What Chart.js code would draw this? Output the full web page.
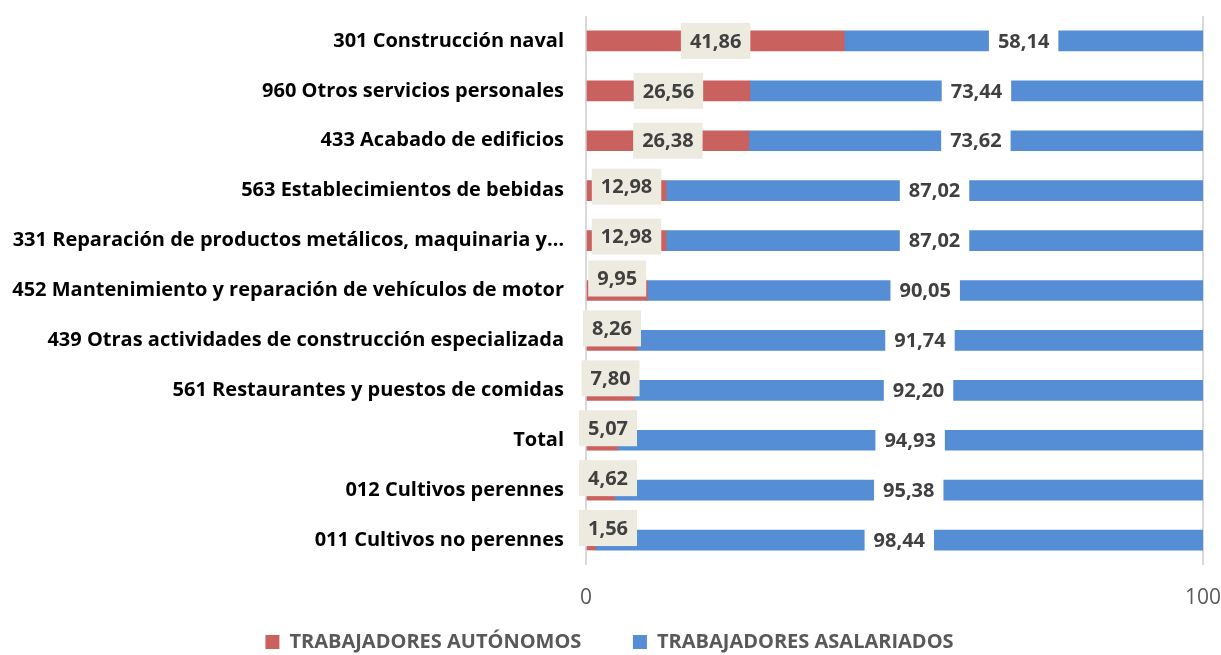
<!DOCTYPE html>
<html>
<head>
<meta charset="utf-8">
<script src="https://cdn.jsdelivr.net/npm/chart.js@4"></script>
<style>
  html, body { margin: 0; padding: 0; background: #ffffff; }
  #wrap { width: 1221px; height: 655px; }
</style>
</head>
<body>
<div id="wrap"><canvas id="chart-trabajadores"></canvas></div>
<script>
autonomoColor = '#C9625E'
asalariadoColor = '#558ED5'

categories = [
    '301 Construcción naval',
    '960 Otros servicios personales',
    '433 Acabado de edificios',
    '563 Establecimientos de bebidas',
    '331 Reparación de productos metálicos, maquinaria y…',
    '452 Mantenimiento y reparación de vehículos de motor',
    '439 Otras actividades de construcción especializada',
    '561 Restaurantes y puestos de comidas',
    'Total',
    '012 Cultivos perennes',
    '011 Cultivos no perennes',
];

autonomos = [41.86, 26.56, 26.38, 12.98, 12.98, 9.95, 8.26, 7.80, 5.07, 4.62, 1.56];
asalariados = [58.14, 73.44, 73.62, 87.02, 87.02, 90.05, 91.74, 92.20, 94.93, 95.38, 98.44];

xTicks = [0, 100];

// etiquetas de datos con caja (no hay plugin datalabels)
const boxLabels = {
    id: 'boxLabels',
    afterDatasetsDraw(chart) {
        const ctx = chart.ctx;
        const x0 = chart.scales.x.getPixelForValue(0);
        ctx.save();
        ctx.font = 'bold 20px "Open Sans"';
        ctx.textAlign = 'center';
        ctx.textBaseline = 'middle';
        // primero asalariados, luego autonomos encima
        [1, 0].forEach((di) => {
            const meta = chart.getDatasetMeta(di);
            const values = chart.data.datasets[di].data;
            meta.data.forEach((bar, i) => {
                const txt = values[i].toFixed(2).replace('.', ',');
                const w = ctx.measureText(txt).width + 18;
                const h = 36;
                let cx = (bar.base + bar.x) / 2;
                let cy = bar.y;
                if (di === 0) {
                    cx = Math.max(cx, x0 + 22);
                    if (values[i] < 12) cy -= 12;
                    else if (values[i] < 15) cy -= 4;
                }
                ctx.fillStyle = di === 0 ? '#EDEBE0' : '#FFFFFF';
                ctx.fillRect(cx - w / 2, cy - h / 2, w, h);
                ctx.fillStyle = '#404040';
                ctx.fillText(txt, cx, cy + 1);
            });
        });
        ctx.restore();
    },
};

var ctx1 = document.getElementById('chart-trabajadores').getContext('2d');

new Chart(ctx1, {
    type: 'bar',
    data: {
        labels: categories,
        datasets: [
            {
                label: 'TRABAJADORES AUTÓNOMOS',
                data: autonomos,
                backgroundColor: autonomoColor,
                barThickness: 20,
            },
            {
                label: 'TRABAJADORES ASALARIADOS',
                data: asalariados,
                backgroundColor: asalariadoColor,
                barThickness: 20,
            },
        ],
    },
    options: {
        indexAxis: 'y',
        responsive: true,
        maintainAspectRatio: false,
        animation: false,
        layout: {
            padding: { top: 16, right: 2, left: 0, bottom: -7 },
        },
        plugins: {
            legend: {
                position: 'bottom',
                labels: {
                    boxWidth: 14,
                    boxHeight: 14,
                    padding: 10,
                    color: '#595959',
                    font: { family: '"Open Sans"', size: 20, weight: 'bold' },
                    // espacio extra entre las dos entradas
                    generateLabels: (chart) => {
                        const items = Chart.defaults.plugins.legend.labels.generateLabels(chart);
                        items[0].text = items[0].text + '\u00A0'.repeat(8);
                        return items;
                    },
                },
            },
            tooltip: { enabled: false },
        },
        scales: {
            x: {
                stacked: true,
                min: 0,
                max: 100,
                afterBuildTicks: (scale) => {
                    scale.ticks = xTicks.map((v) => ({ value: v }));
                },
                afterFit: (scale) => {
                    scale.height = 57;
                },
                grid: {
                    color: '#D9D9D9',
                    lineWidth: 2,
                    drawTicks: true,
                    tickLength: 20,
                    tickColor: 'rgba(0,0,0,0)',
                },
                border: { display: false },
                ticks: {
                    padding: 0,
                    color: '#595959',
                    font: { family: '"Open Sans"', size: 21 },
                },
            },
            y: {
                stacked: true,
                afterFit: (scale) => {
                    scale.width = 586;
                },
                grid: {
                    display: false,
                    drawTicks: true,
                    tickLength: 22,
                },
                border: { display: false },
                ticks: {
                    padding: 0,
                    color: '#000000',
                    font: { family: '"Open Sans"', size: 20, weight: 'bold' },
                },
            },
        },
    },
    plugins: [boxLabels],
});
</script>
</body>
</html>
